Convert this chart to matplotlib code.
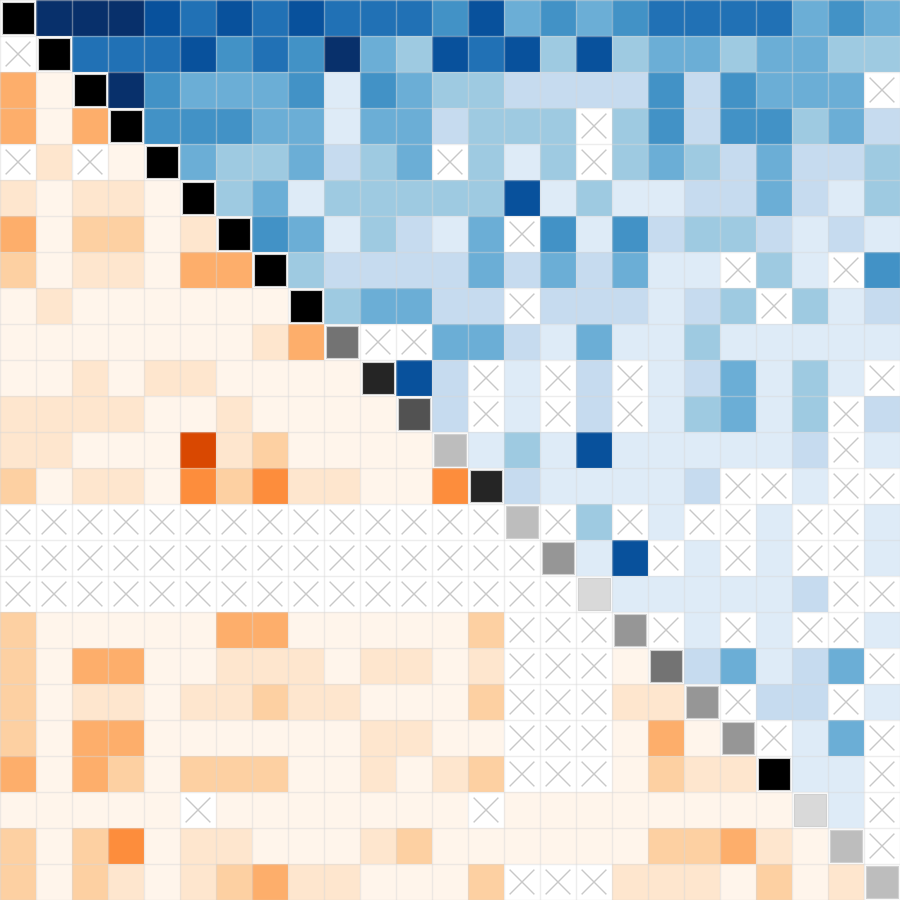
import numpy as np
import matplotlib
matplotlib.use('Agg')
import matplotlib.pyplot as plt
from matplotlib.colors import ListedColormap
from matplotlib.patches import Rectangle

# colour steps (colorbrewer 9-class)
blues = ['#f7fbff', '#deebf7', '#c6dbef', '#9ecae1', '#6baed6',
         '#4292c6', '#2171b5', '#08519c', '#08306b']
oranges = ['#fff5eb', '#fee6ce', '#fdd0a2', '#fdae6b', '#fd8d3c',
           '#f16913', '#d94801', '#a63603', '#7f2704']
greys = ['#ffffff', '#f0f0f0', '#d9d9d9', '#bdbdbd', '#969696',
         '#737373', '#525252', '#252525', '#000000']

# one string per row, one char per column: colour step 0-8, x = missing
# above diagonal -> blues, below -> oranges, diagonal -> greys
grid = [
    "8888767676665745456666454",
    "x866675658437673734434433",
    "308854445154332222525444x",
    "3038555441442333x35255342",
    "x1x084334234x313x34324223",
    "1011083413333371311224213",
    "30220185413214x5152332121",
    "20110338322224242411x31x5",
    "01000000834422x222123x312",
    "0000000135xx4421411311111",
    "0010110000772x1x2x124131x",
    "1111001000062x1x2x13413x2",
    "11000612000031317111112x1",
    "20110424110047211112xx1xx",
    "xxxxxxxxxxxxxx3x3x1xx1xx1",
    "xxxxxxxxxxxxxxx417x1x1xx1",
    "xxxxxxxxxxxxxxxx2111112xx",
    "20000033000002xxx4x1x1xx1",
    "20330011101101xxx0524124x",
    "20110112110002xxx114x22x1",
    "20330000001100xxx0304x14x",
    "30320222001012xxx0211811x",
    "00000x0000000x0000000021x",
    "202401100012000000223103x",
    "20210123110002xxx11102013",
]

n = len(grid)
vals = np.array([[np.nan if ch == 'x' else float(ch) for ch in row] for row in grid])
ii, jj = np.indices(vals.shape)

fig = plt.figure(figsize=(9, 9), dpi=100)
ax = fig.add_axes([0, 0, 1, 1])

upper = np.ma.masked_where((jj <= ii) | np.isnan(vals), vals)
lower = np.ma.masked_where((jj >= ii) | np.isnan(vals), vals)
ax.imshow(upper, cmap=ListedColormap(blues), vmin=-0.5, vmax=8.5, interpolation='nearest')
ax.imshow(lower, cmap=ListedColormap(oranges), vmin=-0.5, vmax=8.5, interpolation='nearest')

# cell separators
for k in range(n + 1):
    ax.axhline(k - 0.5, color='#d8d8d8', alpha=0.45, lw=1)
    ax.axvline(k - 0.5, color='#d8d8d8', alpha=0.45, lw=1)

# diagonal: inset grey squares
for i in range(n):
    lvl = int(vals[i, i])
    ax.add_patch(Rectangle((i - 0.45, i - 0.45), 0.9, 0.9, facecolor=greys[lvl],
                           edgecolor='#d0d0d0', lw=0.8, zorder=3))

# missing cells get a cross
m = 0.33
for i in range(n):
    for j in range(n):
        if i != j and np.isnan(vals[i, j]):
            ax.plot([j - m, j + m], [i - m, i + m], color='#c8c8c8', lw=1, zorder=2)
            ax.plot([j - m, j + m], [i + m, i - m], color='#c8c8c8', lw=1, zorder=2)

ax.set_xlim(-0.5, n - 0.5)
ax.set_ylim(n - 0.5, -0.5)
ax.axis('off')

plt.savefig('out.png', dpi=100)
